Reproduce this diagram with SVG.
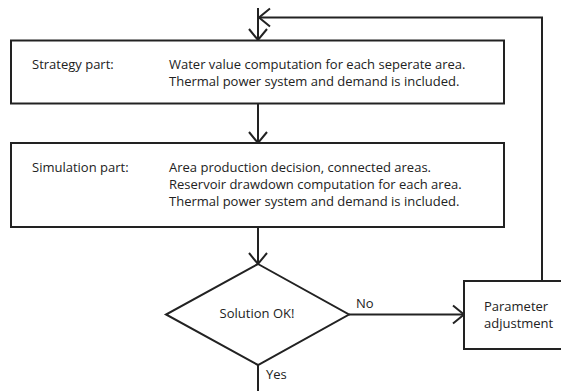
<svg xmlns="http://www.w3.org/2000/svg" width="561" height="391" viewBox="0 0 561 391">
<defs>
<style>
.box{fill:#fff;stroke:#222;stroke-width:2}
.ln{fill:none;stroke:#222;stroke-width:2}
text{font-family:"Open Sans","Noto Sans",sans-serif;font-size:13px;fill:#222}
</style>
<marker id="ah" markerUnits="userSpaceOnUse" markerWidth="30" markerHeight="30" viewBox="-15 -15 30 30" refX="0" refY="0" orient="auto">
<path d="M-11,-9 L0,0 L-11,9" fill="none" stroke="#222" stroke-width="2"/>
</marker>
</defs>
<rect width="561" height="391" fill="#fff"/>
<g id="connectors">
<path class="ln" d="M258,8 V40" marker-end="url(#ah)"/>
<path class="ln" d="M542,281 V17.5 H259" marker-end="url(#ah)"/>
<path class="ln" d="M258,104 V143" marker-end="url(#ah)"/>
<path class="ln" d="M258,227 V264" marker-end="url(#ah)"/>
<path class="ln" d="M349,314.5 H464" marker-end="url(#ah)"/>
<path class="ln" d="M258,365 V391"/>
</g>
<g id="strategy">
<rect class="box" x="11" y="40.5" width="493" height="63"/>
<text x="32" y="68.5">Strategy part:</text>
<text x="169" y="69">Water value computation for each seperate area.</text>
<text x="169" y="86">Thermal power system and demand is included.</text>
</g>
<g id="simulation">
<rect class="box" x="11" y="143" width="493" height="84"/>
<text x="32" y="172">Simulation part:</text>
<text x="169" y="172">Area production decision, connected areas.</text>
<text x="169" y="189">Reservoir drawdown computation for each area.</text>
<text x="169" y="206">Thermal power system and demand is included.</text>
</g>
<g id="decision">
<polygon class="box" points="258,264 349,314.5 258,365 166,314.5"/>
<text x="257" y="318" text-anchor="middle">Solution OK!</text>
</g>
<g id="param">
<rect class="box" x="464" y="281" width="110" height="68"/>
<text x="484" y="311">Parameter</text>
<text x="484" y="328">adjustment</text>
</g>
<g id="labels">
<text x="356" y="308">No</text>
<text x="266" y="379">Yes</text>
</g>
</svg>
